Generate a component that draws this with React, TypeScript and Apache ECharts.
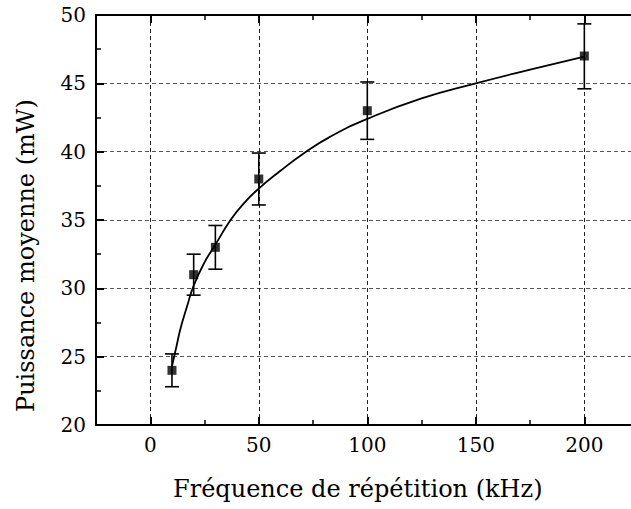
import React, { useEffect, useRef } from 'react';
import * as echarts from 'echarts';

// Measured points (kHz, mW) with error bounds
const frequencies = [10, 20, 30, 50, 100, 200];
const powers = [24.0, 31.0, 33.0, 38.0, 43.0, 47.0];
const errLow = [22.8, 29.5, 31.4, 36.1, 40.9, 44.6];
const errHigh = [25.2, 32.5, 34.6, 39.9, 45.1, 49.35];

// Fitted curve
const fitFreq = [10, 12, 14, 17, 20, 25, 30, 37, 43, 50, 60, 70, 83, 100, 125, 150, 175, 200];
const fitPower = [24.3, 25.7, 27.1, 28.7, 30.2, 31.9, 33.2, 35.0, 36.2, 37.3, 38.6, 39.8, 41.1, 42.4, 43.9, 45.0, 46.0, 46.95];

const xMajorTicks = [0, 50, 100, 150, 200];
const xMinorTicks = [25, 75, 125, 175];
const yTicks = [20, 25, 30, 35, 40, 45, 50];

const xTitle = 'Fréquence de répétition (kHz)';
const yTitle = 'Puissance moyenne (mW)';

const FONT = 'DejaVu Serif';

export default function App() {
  const ref = useRef<HTMLDivElement>(null);

  useEffect(() => {
    document.body.style.margin = '0';
    if (!ref.current) return;
    const chart = echarts.init(ref.current, undefined, { renderer: 'svg' });

    const xMin = -25;
    const xMax = 221.5;

    const baseX = {
      type: 'value' as const,
      min: xMin,
      max: xMax,
      interval: 25,
    };

    const option: any = {
      animation: false,
      backgroundColor: '#fff',
      textStyle: { fontFamily: FONT },
      grid: { left: 96, top: 15, right: 0, bottom: 84, containLabel: false },
      xAxis: [
        {
          ...baseX,
          position: 'bottom',
          axisLine: { show: true, onZero: false, lineStyle: { color: '#000', width: 2 } },
          axisTick: { show: true, inside: true, length: 8, customValues: xMajorTicks, lineStyle: { color: '#000', width: 2 } },
          axisLabel: {
            show: true,
            customValues: xMajorTicks,
            margin: 10,
            color: '#000',
            fontFamily: FONT,
            fontSize: 20,
          },
          splitLine: { show: true, lineStyle: { color: '#222', width: 1, type: [4, 3] } },
        },
        {
          ...baseX,
          position: 'bottom',
          axisLine: { show: false },
          axisTick: { show: true, inside: true, length: 5, customValues: xMinorTicks, lineStyle: { color: '#000', width: 1.5 } },
          axisLabel: { show: false },
          splitLine: { show: false },
        },
        {
          ...baseX,
          position: 'top',
          axisLine: { show: true, onZero: false, lineStyle: { color: '#000', width: 2 } },
          axisTick: { show: true, inside: true, length: 8, customValues: xMajorTicks, lineStyle: { color: '#000', width: 2 } },
          axisLabel: { show: false },
          splitLine: { show: false },
        },
        {
          ...baseX,
          position: 'top',
          axisLine: { show: false },
          axisTick: { show: true, inside: true, length: 5, customValues: xMinorTicks, lineStyle: { color: '#000', width: 1.5 } },
          axisLabel: { show: false },
          splitLine: { show: false },
        },
      ],
      yAxis: [
        {
          type: 'value',
          min: yTicks[0],
          max: yTicks[yTicks.length - 1],
          interval: 5,
          position: 'left',
          axisLine: { show: true, onZero: false, lineStyle: { color: '#000', width: 2 } },
          axisTick: { show: true, inside: true, length: 8, lineStyle: { color: '#000', width: 2 } },
          minorTick: { show: true, splitNumber: 2, length: 5, lineStyle: { color: '#000', width: 1.5 } },
          axisLabel: { color: '#000', fontFamily: FONT, fontSize: 20, margin: 10 },
          splitLine: { show: true, lineStyle: { color: '#555', width: 1, type: [4, 3] } },
        },
      ],
      series: [
        {
          type: 'line',
          xAxisIndex: 0,
          data: fitFreq.map((f, i) => [f, fitPower[i]]),
          smooth: true,
          showSymbol: false,
          symbol: 'none',
          lineStyle: { color: '#000', width: 1.8 },
          z: 3,
        },
        {
          type: 'custom',
          xAxisIndex: 0,
          data: frequencies.map((f, i) => [f, errLow[i], errHigh[i]]),
          encode: { x: 0, y: [1, 2] },
          renderItem: (params: any, api: any) => {
            const x = api.value(0);
            const lo = api.coord([x, api.value(1)]);
            const hi = api.coord([x, api.value(2)]);
            const hw = 7;
            const style = { stroke: '#000', lineWidth: 1.6, fill: null };
            return {
              type: 'group',
              children: [
                { type: 'line', shape: { x1: lo[0], y1: lo[1], x2: hi[0], y2: hi[1] }, style },
                { type: 'line', shape: { x1: lo[0] - hw, y1: lo[1], x2: lo[0] + hw, y2: lo[1] }, style },
                { type: 'line', shape: { x1: hi[0] - hw, y1: hi[1], x2: hi[0] + hw, y2: hi[1] }, style },
              ],
            };
          },
          z: 4,
        },
        {
          type: 'scatter',
          xAxisIndex: 0,
          data: frequencies.map((f, i) => [f, powers[i]]),
          symbol: 'rect',
          symbolSize: 9,
          itemStyle: { color: '#000' },
          z: 5,
        },
      ],
      graphic: [
        {
          type: 'text',
          x: 173,
          y: 489,
          style: {
            text: xTitle,
            fontFamily: FONT,
            fontSize: 24,
            fill: '#000',
            textAlign: 'left',
            textVerticalAlign: 'middle',
          },
        },
        {
          type: 'text',
          x: 26,
          y: 412,
          rotation: Math.PI / 2,
          style: {
            text: yTitle,
            fontFamily: FONT,
            fontSize: 24,
            fill: '#000',
            textAlign: 'left',
            textVerticalAlign: 'middle',
          },
        },
      ],
    };

    chart.setOption(option);
    return () => chart.dispose();
  }, []);

  return <div ref={ref} style={{ width: 631, height: 509 }} />;
}
